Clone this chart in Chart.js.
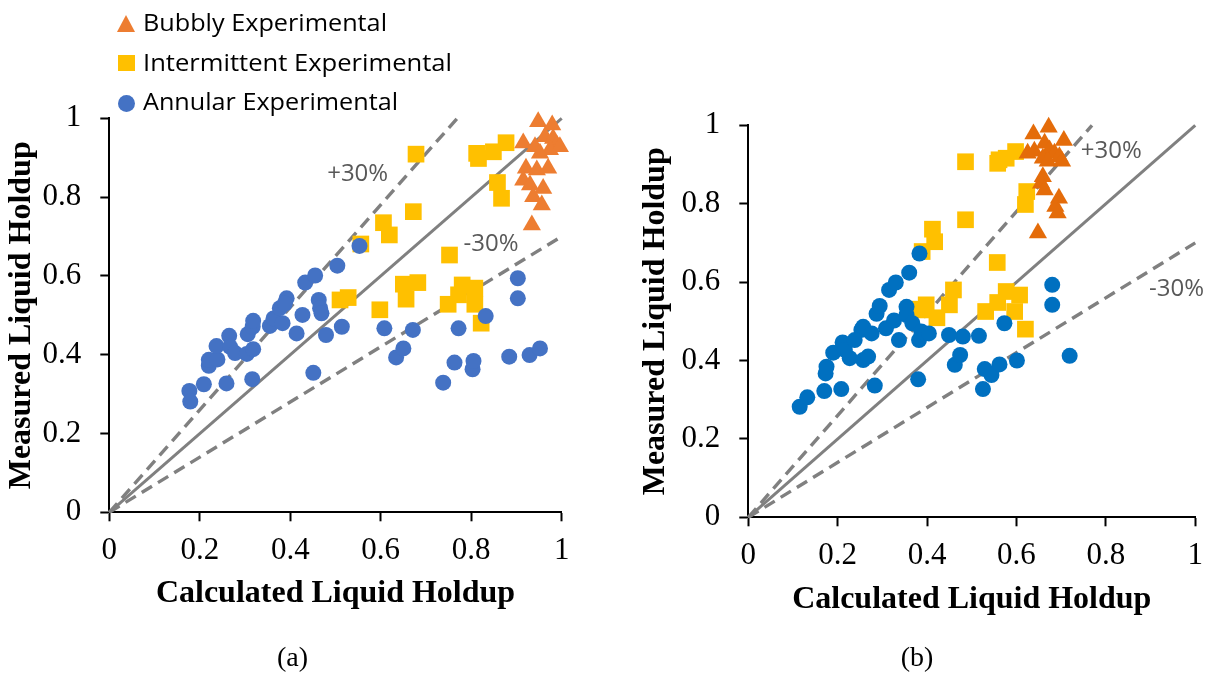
<!DOCTYPE html>
<html><head><meta charset="utf-8">
<script src="https://cdn.jsdelivr.net/npm/chart.js@4.4.1/dist/chart.umd.min.js"></script>
<style>
html,body{margin:0;padding:0;background:#fff;width:1214px;height:675px;overflow:hidden;position:relative;}
canvas{position:absolute;top:0;}
#cA{left:0;} #cB{left:607px;}
.lg{position:absolute;font-family:'Open Sans',sans-serif;font-size:23px;line-height:23px;color:#000;white-space:nowrap;transform-origin:0 50%;}
.mk{position:absolute;}
.cap{position:absolute;font-family:'Liberation Serif',serif;font-size:28px;line-height:28px;color:#000;white-space:nowrap;}
</style></head>
<body>
<canvas id="cA" width="607" height="675"></canvas>
<canvas id="cB" width="607" height="675"></canvas>
<div class="mk" style="left:117px;top:15px;width:18px;height:17px;background:#ED7D31;clip-path:polygon(50% 0,100% 100%,0 100%);"></div>
<div class="mk" style="left:118px;top:55px;width:17px;height:16px;background:#FFC000;"></div>
<div class="mk" style="left:118px;top:95px;width:17px;height:17px;background:#4472C4;border-radius:50%;"></div>
<div class="lg" id="lg0" style="left:143px;top:11px;"></div>
<div class="lg" id="lg1" style="left:143px;top:51px;"></div>
<div class="lg" id="lg2" style="left:143px;top:90px;"></div>
<div class="cap" id="capA" style="top:643px;"></div>
<div class="cap" id="capB" style="top:643px;"></div>
<script>
// ---------- data ----------
const seriesNames = ['Bubbly Experimental', 'Intermittent Experimental', 'Annular Experimental'];
const panelCaptions = ['(a)', '(b)'];
const xTitle = 'Calculated Liquid Holdup';
const yTitle = 'Measured Liquid Holdup';
const tickLabels = ['0', '0.2', '0.4', '0.6', '0.8', '1'];
const bandLabels = ['+30%', '-30%'];

const parityLine = [[0, 0], [1, 1]];
const plus30Line = [[0, 0], [0.769, 1]];
const minus30Line = [[0, 0], [1, 0.7]];

// panel (a)
const aBubbly = [[0.948,0.991],[0.979,0.983],[0.915,0.937],[0.941,0.928],[0.963,0.953],[0.981,0.949],[0.989,0.932],[0.974,0.920],[0.952,0.911],[0.921,0.873],[0.945,0.869],[0.970,0.873],[0.915,0.843],[0.930,0.831],[0.959,0.822],[0.937,0.801],[0.956,0.780],[0.934,0.729],[0.996,0.928]];
const aIntermittent = [[0.678,0.909],[0.812,0.911],[0.816,0.898],[0.849,0.915],[0.877,0.938],[0.858,0.837],[0.867,0.797],[0.672,0.763],[0.606,0.735],[0.619,0.704],[0.556,0.681],[0.752,0.653],[0.510,0.539],[0.528,0.545],[0.598,0.514],[0.650,0.579],[0.682,0.583],[0.656,0.541],[0.749,0.528],[0.772,0.552],[0.780,0.577],[0.808,0.569],[0.808,0.528],[0.822,0.480]];
const aAnnular = [[0.177,0.308],[0.179,0.281],[0.209,0.325],[0.259,0.327],[0.316,0.338],[0.220,0.372],[0.220,0.387],[0.239,0.388],[0.237,0.422],[0.265,0.448],[0.267,0.420],[0.278,0.404],[0.304,0.402],[0.318,0.414],[0.306,0.452],[0.317,0.471],[0.318,0.486],[0.355,0.473],[0.363,0.492],[0.383,0.480],[0.377,0.518],[0.392,0.543],[0.388,0.530],[0.414,0.454],[0.427,0.501],[0.433,0.583],[0.455,0.601],[0.463,0.539],[0.466,0.518],[0.469,0.505],[0.479,0.450],[0.451,0.354],[0.504,0.626],[0.514,0.471],[0.553,0.676],[0.608,0.467],[0.634,0.393],[0.650,0.416],[0.671,0.463],[0.738,0.329],[0.763,0.380],[0.772,0.467],[0.803,0.363],[0.805,0.384],[0.832,0.498],[0.884,0.395],[0.903,0.594],[0.903,0.543],[0.929,0.399],[0.952,0.416]];

// panel (b)
const bBubbly = [[0.638,0.978],[0.672,0.995],[0.706,0.961],[0.625,0.929],[0.640,0.934],[0.663,0.954],[0.674,0.937],[0.685,0.929],[0.696,0.920],[0.659,0.916],[0.702,0.908],[0.670,0.908],[0.659,0.869],[0.655,0.852],[0.663,0.835],[0.695,0.814],[0.687,0.793],[0.692,0.776],[0.648,0.725]];
const bIntermittent = [[0.486,0.907],[0.558,0.903],[0.561,0.912],[0.577,0.916],[0.598,0.933],[0.623,0.831],[0.620,0.798],[0.486,0.759],[0.412,0.735],[0.417,0.703],[0.389,0.678],[0.557,0.650],[0.380,0.531],[0.398,0.542],[0.422,0.509],[0.459,0.580],[0.450,0.542],[0.531,0.525],[0.558,0.548],[0.577,0.576],[0.607,0.567],[0.596,0.525],[0.620,0.480],[0.387,0.529]];
const bAnnular = [[0.115,0.282],[0.132,0.306],[0.170,0.322],[0.208,0.327],[0.283,0.336],[0.380,0.352],[0.173,0.367],[0.175,0.384],[0.190,0.420],[0.211,0.446],[0.227,0.406],[0.216,0.427],[0.257,0.401],[0.268,0.410],[0.238,0.452],[0.253,0.478],[0.257,0.486],[0.276,0.469],[0.287,0.519],[0.294,0.539],[0.308,0.482],[0.326,0.502],[0.337,0.452],[0.315,0.580],[0.330,0.599],[0.360,0.624],[0.383,0.673],[0.354,0.537],[0.354,0.516],[0.367,0.495],[0.382,0.452],[0.387,0.474],[0.404,0.469],[0.449,0.465],[0.480,0.461],[0.516,0.463],[0.462,0.389],[0.474,0.414],[0.525,0.327],[0.529,0.378],[0.544,0.363],[0.562,0.390],[0.573,0.495],[0.601,0.400],[0.680,0.593],[0.680,0.542],[0.719,0.412]];

// ---------- helpers ----------
const pts = a => a.map(p => ({x: p[0], y: p[1]}));

const bandLabelPlugin = {
  id: 'bandLabels',
  afterDatasetsDraw(chart, args, opts) {
    const {ctx, scales: {x, y}} = chart;
    ctx.save();
    ctx.font = opts.font;
    ctx.fillStyle = opts.color;
    ctx.textAlign = 'center';
    ctx.textBaseline = 'middle';
    opts.items.forEach(it => ctx.fillText(it.text, x.getPixelForValue(it.x), y.getPixelForValue(it.y)));
    ctx.restore();
  }
};

function refLine(data, dashed) {
  return {type: 'scatter', data: pts(data), showLine: true, pointRadius: 0, borderColor: '#808080',
    borderWidth: dashed ? 3.4 : 3, borderDash: dashed ? [12, 7] : [], fill: false, clip: false, order: 10};
}

function build(id, o) {
  const serif = 'Liberation Serif';
  new Chart(document.getElementById(id), {
    type: 'scatter',
    data: {datasets: [
      {label: seriesNames[2], data: pts(o.annular), pointStyle: 'circle', pointRadius: 8,
        pointBackgroundColor: o.cAnn, pointBorderColor: o.cAnn, pointBorderWidth: 0, clip: false, order: 1},
      {label: seriesNames[0], data: pts(o.bubbly), pointStyle: 'triangle', pointRadius: 10.5,
        pointBackgroundColor: o.cBub, pointBorderColor: o.cBub, pointBorderWidth: 0, clip: false, order: 2},
      {label: seriesNames[1], data: pts(o.inter), pointStyle: 'rect', pointRadius: 11.8,
        pointBackgroundColor: '#FFC000', pointBorderColor: '#FFC000', pointBorderWidth: 0, clip: false, order: 3},
      refLine(parityLine, false),
      refLine(plus30Line, true),
      refLine(minus30Line, true)
    ]},
    options: {
      responsive: false, animation: false, devicePixelRatio: 1, events: [],
      layout: {padding: {left: 0, right: o.padR, top: o.padT, bottom: o.padB}},
      plugins: {
        legend: {display: false}, tooltip: {enabled: false},
        bandLabels: {font: '24px "Open Sans"', color: '#595959', items: o.bands}
      },
      scales: {
        x: {
          type: 'linear', min: 0, max: 1,
          ticks: {stepSize: 0.2, autoSkip: false, maxRotation: 0, padding: 11, color: '#000',
            font: {family: serif, size: 31}, callback: (v, i) => tickLabels[i]},
          grid: {display: true, drawOnChartArea: false, drawTicks: true, tickLength: 9, tickColor: '#000', tickWidth: 2},
          border: {display: true, color: '#000', width: 2},
          title: {display: true, text: xTitle, color: '#000', padding: 0,
            font: {family: serif, size: 32, weight: 'bold'}},
          afterFit: s => { s.height = o.xH; }
        },
        y: {
          type: 'linear', min: 0, max: 1,
          ticks: {stepSize: 0.2, autoSkip: false, padding: 19, color: '#000',
            font: {family: serif, size: 31}, callback: (v, i) => tickLabels[i]},
          grid: {display: true, drawOnChartArea: false, drawTicks: true, tickLength: 9, tickColor: '#000', tickWidth: 2},
          border: {display: true, color: '#000', width: 2},
          title: {display: true, text: yTitle, color: '#000', padding: {top: o.yTitlePad, bottom: 0},
            font: {family: serif, size: 32, weight: 'bold'}},
          afterFit: s => { s.width = o.yW; }
        }
      }
    },
    plugins: [bandLabelPlugin]
  });
}

build('cA', {
  annular: aAnnular, bubbly: aBubbly, inter: aIntermittent, cAnn: '#4472C4', cBub: '#ED7D31',
  yW: 109.3, padR: 45.3, padT: 118.3, padB: 61.8, xH: 100.9, yTitlePad: 2.8,
  bands: [{text: bandLabels[0], x: 0.549, y: 0.859}, {text: bandLabels[1], x: 0.844, y: 0.681}]
});
build('cB', {
  annular: bAnnular, bubbly: bBubbly, inter: bIntermittent, cAnn: '#0070C0', cBub: '#E46C0A',
  yW: 141.3, padR: 18, padT: 125.3, padB: 55.8, xH: 101.9, yTitlePad: 29.8,
  bands: [{text: bandLabels[0], x: 0.812, y: 0.934}, {text: bandLabels[1], x: 0.958, y: 0.582}]
});

// legend + captions (HTML text)
const lgTargets = [244, 309, 255];
seriesNames.forEach((n, i) => {
  const el = document.getElementById('lg' + i);
  el.textContent = n;
  const w = el.getBoundingClientRect().width;
  if (w > 0) el.style.transform = 'scaleX(' + (lgTargets[i] / w).toFixed(4) + ')';
});
[['capA', 292.5], ['capB', 917]].forEach(([id, cx], i) => {
  const el = document.getElementById(id);
  el.textContent = panelCaptions[i];
  const w = el.getBoundingClientRect().width;
  el.style.left = (cx - w / 2) + 'px';
});
</script>
</body></html>
